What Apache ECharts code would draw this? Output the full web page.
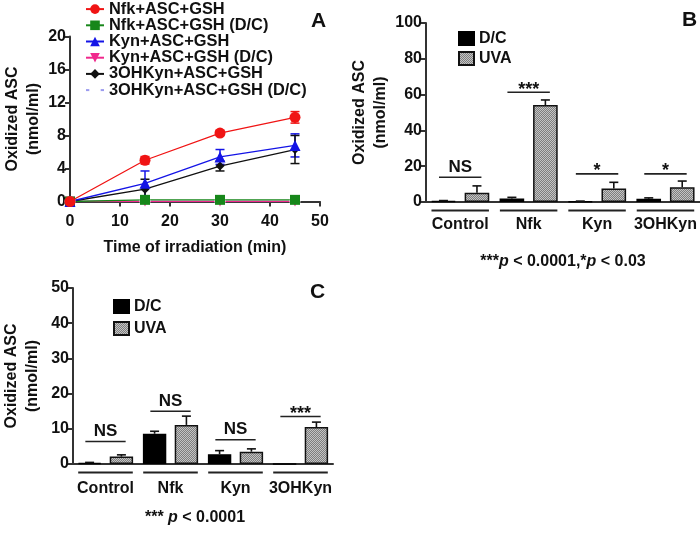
<!DOCTYPE html>
<html><head><meta charset="utf-8">
<script src="https://cdn.jsdelivr.net/npm/echarts@6/dist/echarts.min.js"></script>
<style>html,body{margin:0;padding:0;background:#fff}#c{width:700px;height:535px}</style>
</head><body><div id="c"></div>
<script>
// ---------- Panel A data ----------
const timePoints = [0, 15, 30, 45];
const aNames = ['Nfk+ASC+GSH','Nfk+ASC+GSH (D/C)','Kyn+ASC+GSH','Kyn+ASC+GSH (D/C)','3OHKyn+ASC+GSH','3OHKyn+ASC+GSH (D/C)'];
const aNfk = [0, 5.0, 8.3, 10.2];
const aNfkErr = [0, 0.45, 0.3, 0.7];
const aNfkDC = [0, 0.2, 0.2, 0.2];
const aKyn = [0, 2.2, 5.4, 6.8];
const aKynErr = [0, 1.5, 0.9, 1.4];
const aKynDC = [0, 0, 0, 0];
const aOH = [0, 1.5, 4.3, 6.3];
const aOHErr = [0, 1.2, 0.6, 1.7];
const aOHDC = [0, 0, 0, 0];

// ---------- Panels B / C data ----------
const categories = ['Control','Nfk','Kyn','3OHKyn'];
const barNames = ['D/C','UVA'];
const bDC = [0.6, 1.9, 0.4, 1.8];
const bDCErr = [0.2, 0.7, 0.1, 0.5];
const bUVA = [5.2, 54.2, 7.6, 8.3];
const bUVAErr = [3.8, 2.8, 3.4, 3.4];
const bSig = ['NS','***','*','*'];
const bSigY = [13.8, 61.3, 15.7, 15.7];

const cDC = [0.3, 8.6, 2.8, 0];
const cDCErr = [0.15, 0.7, 1.0, 0];
const cUVA = [2.1, 11.1, 3.5, 10.5];
const cUVAErr = [0.5, 2.5, 0.8, 1.4];
const cSig = ['NS','NS','NS','***'];
const cSigY = [6.4, 15.0, 6.9, 13.5];

const FONT = '"Liberation Sans", Arial, sans-serif';
const TXT = '#111';
const AX = '#333';

// dotted gray pattern for UVA bars
const pc = document.createElement('canvas');
pc.width = 2; pc.height = 2;
const px = pc.getContext('2d');
px.fillStyle = '#7e7e7e'; px.fillRect(0,0,2,2);
px.fillStyle = '#c4c4c4'; px.fillRect(0,0,1,1); px.fillRect(1,1,1,1);
const uvaFill = { image: pc, repeat: 'repeat' };

const chart = echarts.init(document.getElementById('c'), null, {renderer:'canvas'});

function pts(xs, ys){ return xs.map((x,i)=>[x, ys[i]]); }
function errPts(xs, ys, es){ return xs.map((x,i)=>[x, ys[i], es[i]]).filter(d=>d[2]>0); }

function errRenderA(color){
  return function(params, api){
    const x = api.value(0), y = api.value(1), e = api.value(2);
    const lo = api.coord([x, y - e]), hi = api.coord([x, y + e]);
    const st = {stroke: color, lineWidth: 1.5};
    return {type:'group', children:[
      {type:'line', shape:{x1:lo[0], y1:lo[1], x2:hi[0], y2:hi[1]}, style:st},
      {type:'line', shape:{x1:hi[0]-4.5, y1:hi[1], x2:hi[0]+4.5, y2:hi[1]}, style:st},
      {type:'line', shape:{x1:lo[0]-4.5, y1:lo[1], x2:lo[0]+4.5, y2:lo[1]}, style:st}
    ]};
  };
}

const OFF = 0.2448;
function errRenderBar(off){
  return function(params, api){
    const i = api.value(0), v = api.value(1), e = api.value(2);
    const band = api.size([1,0])[0];
    const top = api.coord([i, v]), hi = api.coord([i, v + e]);
    const x = top[0] + off * band;
    const st = {stroke: '#111', lineWidth: 1.6};
    return {type:'group', children:[
      {type:'line', shape:{x1:x, y1:top[1], x2:x, y2:hi[1]}, style:st},
      {type:'line', shape:{x1:x-4.5, y1:hi[1], x2:x+4.5, y2:hi[1]}, style:st}
    ]};
  };
}
function groupLineRender(params, api){
  const c = api.coord([api.value(0), 0]);
  const band = api.size([1,0])[0];
  const y = c[1] + 8.5;
  return {type:'line', shape:{x1:c[0]-0.42*band, y1:y, x2:c[0]+0.42*band, y2:y}, style:{stroke:'#222', lineWidth:2}};
}
function sigRender(labels){
  return function(params, api){
    const i = api.value(0), v = api.value(1);
    const c = api.coord([i, v]);
    const band = api.size([1,0])[0];
    const lab = labels[params.dataIndex];
    const star = lab.indexOf('*') >= 0;
    return {type:'group', children:[
      {type:'line', shape:{x1:c[0]-0.31*band, y1:c[1], x2:c[0]+0.31*band, y2:c[1]}, style:{stroke:'#222', lineWidth:1.6}},
      {type:'text', x:c[0], y: star ? c[1]-2.5 : c[1]-1.5,
       style:{text:lab, font: (star ? 'bold 18px ' : 'bold 17px ') + FONT, fill:TXT, align:'center', verticalAlign: star ? 'middle' : 'bottom'}}
    ]};
  };
}

const axisLabelStyle = {fontFamily: FONT, fontWeight:'bold', fontSize:16, color: TXT};
const nameStyle = {fontFamily: FONT, fontWeight:'bold', fontSize:16, color: TXT, lineHeight:21};

const invTri = 'path://M0,0 L10,0 L5,9 Z';

const aColors = ['#f01414','#17871a','#1414e6','#f0288c','#111111','#9b9bef'];
const aSymbols = ['circle','rect','triangle',invTri,'diamond','emptyCircle'];
const aSizes = [11,10,11,10,9,9];
const aData = [aNfk, aNfkDC, aKyn, aKynDC, aOH, aOHDC];
const aErrs = [aNfkErr, null, aKynErr, null, aOHErr, null];

const series = [];
aErrs.forEach((e, k)=>{
  if(!e) return;
  series.push({type:'custom', xAxisIndex:0, yAxisIndex:0, renderItem: errRenderA(aColors[k]),
    data: errPts(timePoints, aData[k], e), z:2, silent:true});
});
[5,3,1,4,2,0].forEach(k=>{
  series.push({type:'line', name:aNames[k], xAxisIndex:0, yAxisIndex:0,
    data: pts(timePoints, aData[k]), symbol:aSymbols[k], symbolSize:aSizes[k],
    lineStyle:{color:aColors[k], width: 1.3}, itemStyle:{color: k===5 ? '#fff' : aColors[k], borderColor:aColors[k], borderWidth: k===5 ? 1.6 : 0},
    z:3});
});

function barPanel(ax, dc, dcErr, uva, uvaErr, sig, sigY){
  series.push({type:'bar', name:'D/C', xAxisIndex:ax, yAxisIndex:ax, data:dc, barWidth:'36%', barGap:'36%',
    itemStyle:{color:'#000', borderColor:'#000', borderWidth:1.5}, z:2});
  series.push({type:'bar', name:'UVA', xAxisIndex:ax, yAxisIndex:ax, data:uva, barWidth:'36%', barGap:'36%',
    itemStyle:{color:uvaFill, borderColor:'#111', borderWidth:1.5}, z:2});
  series.push({type:'custom', xAxisIndex:ax, yAxisIndex:ax, renderItem: errRenderBar(-OFF),
    data: dc.map((v,i)=>[i, v, dcErr[i]]).filter(d=>d[2]>0), z:3, silent:true});
  series.push({type:'custom', xAxisIndex:ax, yAxisIndex:ax, renderItem: errRenderBar(OFF),
    data: uva.map((v,i)=>[i, v, uvaErr[i]]), z:3, silent:true});
  series.push({type:'custom', xAxisIndex:ax, yAxisIndex:ax, renderItem: groupLineRender,
    data: categories.map((c,i)=>[i, 0]), z:3, silent:true});
  series.push({type:'custom', xAxisIndex:ax, yAxisIndex:ax, renderItem: sigRender(sig),
    data: sigY.map((v,i)=>[i, v]), z:3, silent:true});
}
barPanel(1, bDC, bDCErr, bUVA, bUVAErr, bSig, bSigY);
barPanel(2, cDC, cDCErr, cUVA, cUVAErr, cSig, cSigY);

function yAx(gi, max, interval, gap){
  return {type:'value', gridIndex:gi, min:0, max:max, interval:interval,
    axisLine:{show:true, lineStyle:{color:AX, width:2}},
    axisTick:{show:true, length:5, lineStyle:{color:AX, width:2}},
    axisLabel:Object.assign({margin:4}, axisLabelStyle),
    splitLine:{show:false},
    name:'Oxidized ASC\n(nmol/ml)', nameLocation:'middle', nameGap:gap, nameTextStyle:nameStyle};
}
function xCat(gi, margin){
  return {type:'category', gridIndex:gi, data:categories,
    axisLine:{show:true, lineStyle:{color:AX, width:2}},
    axisTick:{show:false},
    axisLabel:Object.assign({margin:margin, interval:0}, axisLabelStyle)};
}

const option = {
  animation:false,
  backgroundColor:'#fff',
  textStyle:{fontFamily:FONT},
  grid:[
    {left:70, top:36.5, width:250, height:165},
    {left:426, top:23, width:274, height:179},
    {left:69, top:288, width:264, height:176}
  ],
  xAxis:[
    {type:'value', gridIndex:0, min:0, max:50, interval:10,
     axisLine:{show:true, onZero:false, lineStyle:{color:AX, width:2}},
     axisTick:{show:true, length:5, lineStyle:{color:AX, width:2}},
     axisLabel:Object.assign({margin:12}, axisLabelStyle),
     splitLine:{show:false},
     name:'Time of irradiation (min)', nameLocation:'middle', nameGap:36, nameTextStyle:nameStyle},
    xCat(1, 15), xCat(2, 17)
  ],
  yAxis:[ yAx(0, 20, 4, 24), yAx(1, 100, 20, 31), yAx(2, 50, 10, 30) ],
  legend:[
    {data:aNames, orient:'vertical', left:80, top:-4, itemWidth:18, itemHeight:12, itemGap:0,
     textStyle:{fontFamily:FONT, fontWeight:'bold', fontSize:16.4, color:TXT, lineHeight:16.2}, selectedMode:false},
    {data:barNames, orient:'vertical', left:453, top:25, itemWidth:15, itemHeight:13, itemGap:3, icon:'rect',
     textStyle:{fontFamily:FONT, fontWeight:'bold', fontSize:16, color:TXT, lineHeight:17}, selectedMode:false},
    {data:barNames, orient:'vertical', left:108, top:293, itemWidth:15, itemHeight:13, itemGap:5, icon:'rect',
     textStyle:{fontFamily:FONT, fontWeight:'bold', fontSize:16, color:TXT, lineHeight:17}, selectedMode:false}
  ],
  graphic:[
    {type:'text', left:311, top:11, style:{text:'A', font:'bold 21px '+FONT, fill:TXT}},
    {type:'text', left:682, top:10, style:{text:'B', font:'bold 21px '+FONT, fill:TXT}},
    {type:'text', left:310, top:282, style:{text:'C', font:'bold 21px '+FONT, fill:TXT}},
    {type:'text', x:563, y:262, style:{
      text:'{a|***}{b|p}{a| < 0.0001,*}{b|p}{a| < 0.03}', align:'center', verticalAlign:'middle',
      rich:{a:{font:'bold 16px '+FONT, fill:TXT}, b:{font:'italic bold 16px '+FONT, fill:TXT}}}},
    {type:'text', x:195, y:518, style:{
      text:'{a|*** }{b|p}{a| < 0.0001}', align:'center', verticalAlign:'middle',
      rich:{a:{font:'bold 16px '+FONT, fill:TXT}, b:{font:'italic bold 16px '+FONT, fill:TXT}}}}
  ],
  series: series
};
chart.setOption(option);
</script></body></html>
